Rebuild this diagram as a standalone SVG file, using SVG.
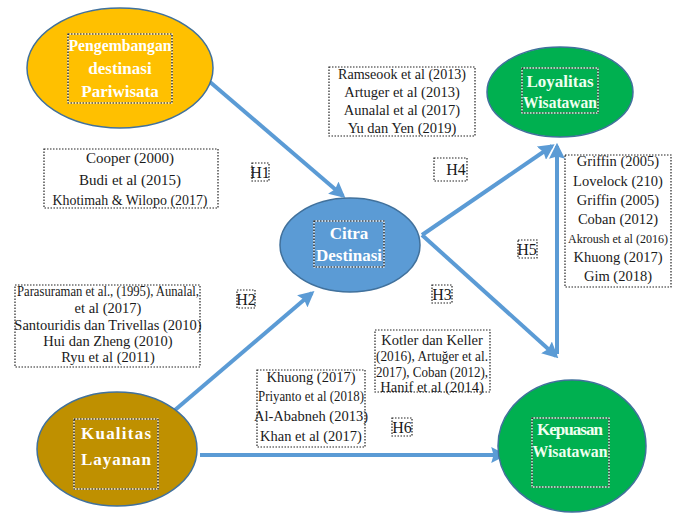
<svg xmlns="http://www.w3.org/2000/svg" width="680" height="514" viewBox="0 0 680 514">
<defs>
<marker id="ah" markerWidth="4" markerHeight="4" refX="3.2" refY="2" orient="auto" markerUnits="strokeWidth">
<path d="M0,0 L4,2 L0,4 L0.6,2 Z" fill="#5B9BD5"/>
</marker>
<style>
.conn{stroke:#5B9BD5;stroke-width:4;fill:none}
.el{stroke:#41719C;stroke-width:1.5}
.nt{font-weight:bold;font-size:17px;fill:#FFFFFF;text-anchor:middle}
.dot{fill:none;stroke:#222;stroke-width:1.2;stroke-dasharray:1.5 1.5}
.ref{font-size:14.5px;fill:#1a1a1a;text-anchor:middle}
.h{font-size:16px;fill:#1a1a1a;text-anchor:middle}
</style>
</defs>
<rect width="680" height="514" fill="#FFFFFF"/>

<g id="connectors">
<line class="conn" x1="210" y1="82" x2="343" y2="196" marker-end="url(#ah)"/>
<line class="conn" x1="175" y1="410" x2="312" y2="293" marker-end="url(#ah)"/>
<line class="conn" x1="422" y1="235" x2="552" y2="146" marker-end="url(#ah)"/>
<line class="conn" x1="422" y1="235" x2="556" y2="356" marker-end="url(#ah)"/>
<line class="conn" x1="557" y1="354" x2="557" y2="146" marker-end="url(#ah)"/>
<line class="conn" x1="200" y1="455" x2="504" y2="455" marker-end="url(#ah)"/>
</g>

<g font-family="'Liberation Serif', 'Times New Roman', Times, Tinos, 'DejaVu Serif', serif">
<g id="pengembangan">
<ellipse class="el" cx="120" cy="68" rx="93" ry="60" fill="#FFC000"/>
<rect x="68" y="34" width="104" height="69" fill="none" stroke="#fff" stroke-width="1.2"/>
<rect x="68" y="34" width="104" height="69" fill="none" stroke="#000" stroke-width="1.2" stroke-dasharray="1.5 1.5"/>
<text class="nt" x="120" y="51" textLength="103" lengthAdjust="spacingAndGlyphs">Pengembangan</text>
<text class="nt" x="120" y="74">destinasi</text>
<text class="nt" x="120" y="97">Pariwisata</text>
</g>

<g id="loyalitas">
<ellipse class="el" cx="560" cy="92" rx="73" ry="45" fill="#00B050"/>
<rect x="522" y="68" width="76" height="45" fill="none" stroke="#fff" stroke-width="1.2"/>
<rect x="522" y="68" width="76" height="45" fill="none" stroke="#000" stroke-width="1.2" stroke-dasharray="1.5 1.5"/>
<text class="nt" x="560" y="87" style="fill:#F0FFF0">Loyalitas</text>
<text class="nt" x="560" y="108" textLength="74" lengthAdjust="spacingAndGlyphs" style="fill:#F0FFF0">Wisatawan</text>
</g>

<g id="citra">
<ellipse class="el" cx="350" cy="245" rx="70" ry="47" fill="#5B9BD5"/>
<rect x="314" y="221" width="70" height="46" fill="none" stroke="#fff" stroke-width="1.2"/>
<rect x="314" y="221" width="70" height="46" fill="none" stroke="#000" stroke-width="1.2" stroke-dasharray="1.5 1.5"/>
<text class="nt" x="349" y="239">Citra</text>
<text class="nt" x="349" y="261" textLength="66" lengthAdjust="spacingAndGlyphs">Destinasi</text>
</g>

<g id="kualitas">
<ellipse class="el" cx="117" cy="449" rx="80" ry="57" fill="#BF9000"/>
<rect x="74" y="419" width="84" height="70" fill="none" stroke="#fff" stroke-width="1.2"/>
<rect x="74" y="419" width="84" height="70" fill="none" stroke="#000" stroke-width="1.2" stroke-dasharray="1.5 1.5"/>
<text class="nt" x="116" y="439" textLength="70" lengthAdjust="spacing">Kualitas</text>
<text class="nt" x="116" y="465" textLength="70" lengthAdjust="spacing">Layanan</text>
</g>

<g id="kepuasan">
<ellipse class="el" cx="572" cy="446" rx="74" ry="66" fill="#00B050"/>
<rect x="532" y="418" width="77" height="69" fill="none" stroke="#fff" stroke-width="1.2"/>
<rect x="532" y="418" width="77" height="69" fill="none" stroke="#000" stroke-width="1.2" stroke-dasharray="1.5 1.5"/>
<text class="nt" x="570" y="435" style="fill:#F0FFF0" textLength="66" lengthAdjust="spacing">Kepuasan</text>
<text class="nt" x="570" y="457" style="fill:#F0FFF0" textLength="75" lengthAdjust="spacingAndGlyphs">Wisatawan</text>
</g>

<g id="ref-h4">
<rect class="dot" x="329" y="67" width="146" height="69"/>
<text class="ref" x="402" y="79" textLength="128" lengthAdjust="spacingAndGlyphs">Ramseook et al  (2013)</text>
<text class="ref" x="402" y="97">Artuger et al (2013)</text>
<text class="ref" x="402" y="115">Aunalal et al (2017)</text>
<text class="ref" x="402" y="133">Yu dan Yen (2019)</text>
</g>

<g id="ref-h1">
<rect class="dot" x="44" y="149" width="174" height="59"/>
<text class="ref" x="130" y="163" style="font-size:15px">Cooper  (2000)</text>
<text class="ref" x="130" y="185" style="font-size:15px">Budi et al (2015)</text>
<text class="ref" x="130" y="205" style="font-size:15px" textLength="155" lengthAdjust="spacingAndGlyphs">Khotimah &amp; Wilopo (2017)</text>
</g>

<g id="ref-h5">
<rect class="dot" x="565" y="155" width="106" height="132"/>
<text class="ref" x="618" y="166">Griffin (2005)</text>
<text class="ref" x="618" y="186">Lovelock (210)</text>
<text class="ref" x="618" y="205">Griffin (2005)</text>
<text class="ref" x="618" y="224">Coban (2012)</text>
<text class="ref" x="618" y="243" style="font-size:12.5px" textLength="100" lengthAdjust="spacingAndGlyphs">Akroush et al (2016)</text>
<text class="ref" x="618" y="262">Khuong (2017)</text>
<text class="ref" x="618" y="281">Gim (2018)</text>
</g>

<g id="ref-h2">
<rect class="dot" x="15" y="285" width="185" height="82"/>
<text class="ref" x="108" y="296" textLength="182" lengthAdjust="spacingAndGlyphs">Parasuraman et al., (1995), Aunalal,</text>
<text class="ref" x="108" y="313">et al (2017)</text>
<text class="ref" x="108" y="330">Santouridis dan Trivellas (2010)</text>
<text class="ref" x="108" y="346">Hui dan Zheng (2010)</text>
<text class="ref" x="108" y="362">Ryu et al (2011)</text>
</g>

<g id="ref-h3">
<rect class="dot" x="375" y="330" width="115" height="62"/>
<text class="ref" x="432" y="345">Kotler dan Keller</text>
<text class="ref" x="432" y="361" textLength="112" lengthAdjust="spacingAndGlyphs">(2016), Artuğer et al.</text>
<text class="ref" x="432" y="377" textLength="112" lengthAdjust="spacingAndGlyphs">2017), Coban (2012),</text>
<text class="ref" x="432" y="392">Hanif et al (2014)</text>
</g>

<g id="ref-h6">
<rect class="dot" x="257" y="370" width="108" height="77"/>
<text class="ref" x="311" y="382">Khuong (2017)</text>
<text class="ref" x="311" y="401" textLength="106" lengthAdjust="spacingAndGlyphs">Priyanto et al (2018)</text>
<text class="ref" x="311" y="421">Al-Ababneh (2013)</text>
<text class="ref" x="311" y="441">Khan et al (2017)</text>
</g>

<g id="h-labels">
<rect class="dot" x="252" y="163" width="17" height="18"/>
<text class="h" x="260" y="178">H1</text>
<rect class="dot" x="434" y="158" width="33" height="23"/>
<text class="h" x="456" y="175">H4</text>
<rect class="dot" x="237" y="290" width="18" height="18"/>
<text class="h" x="246" y="305">H2</text>
<rect class="dot" x="432" y="285" width="20" height="18"/>
<text class="h" x="442" y="300">H3</text>
<rect class="dot" x="518" y="240" width="19" height="18"/>
<text class="h" x="527" y="255">H5</text>
<rect class="dot" x="392" y="418" width="20" height="18"/>
<text class="h" x="402" y="433">H6</text>
</g>
</g>
</svg>
